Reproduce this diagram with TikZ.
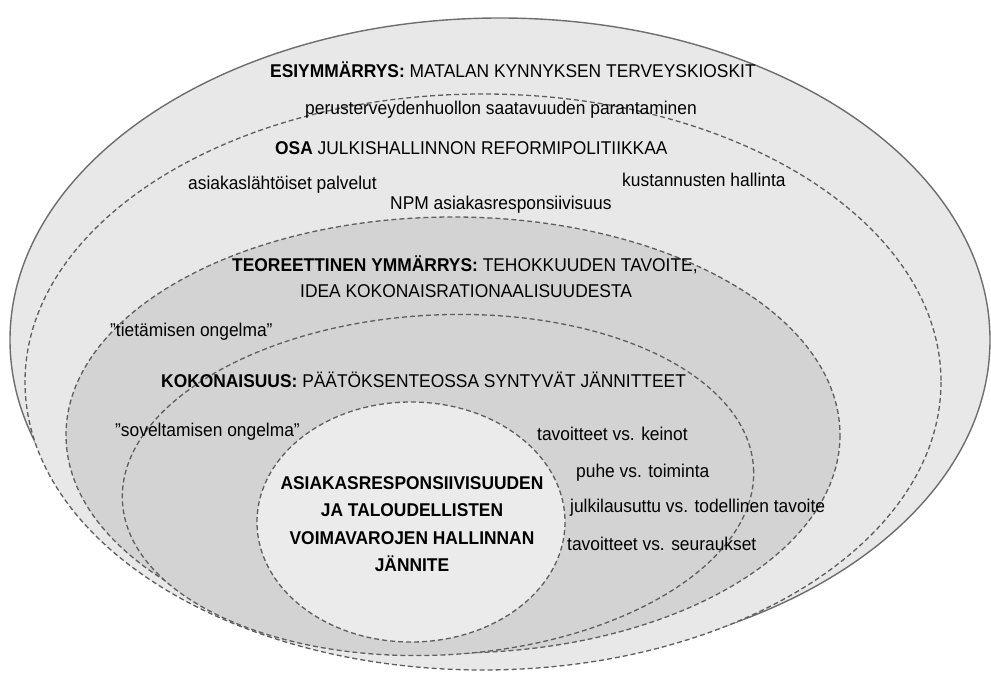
\documentclass[tikz,border=0pt]{standalone}
\usepackage{fontspec}
\setmainfont{Liberation Sans}[FakeStretch=0.94]
\definecolor{light}{HTML}{E8E8E8}
\definecolor{mid}{HTML}{D3D3D3}
\definecolor{core}{HTML}{EBEBEB}
\definecolor{edge}{HTML}{5E5E5E}

\begin{document}
\begin{tikzpicture}[
  x=1pt, y=-1pt,
  outer/.style = {fill=light, draw=edge!90, line width=1.4pt},
  layer/.style = {draw=edge, line width=1.3pt, dash pattern=on 5pt off 3pt},
  txt/.style = {anchor=base west, inner sep=0pt, text=black, font=\fontsize{18.5}{27}\selectfont}
  ]
  \useasboundingbox (0,0) rectangle (991,676);

  % Ellipses
  \draw[outer] (500,340) ellipse [x radius=490, y radius=322];
  \draw[layer, fill=light] (483,382) ellipse [x radius=458, y radius=288];
  \draw[layer, fill=mid] (453,435) ellipse [x radius=387, y radius=218];
  \draw[layer, fill=mid, rotate around={3:(438,485)}] (438,485) ellipse [x radius=316, y radius=170];
  \draw[layer, fill=core] (411,522) ellipse [x radius=154, y radius=120];

  % Textes
  \node[txt] (esi) at (270,78) {\textbf{ESIYMMÄRRYS:} MATALAN KYNNYKSEN TERVEYSKIOSKIT};
  \node[txt] (perus) at (305,115) {perusterveydenhuollon saatavuuden parantaminen};
  \node[txt] (osa) at (275,155) {\textbf{OSA} JULKISHALLINNON REFORMIPOLITIIKKAA};
  \node[txt] (asiak) at (188,190) {asiakaslähtöiset palvelut};
  \node[txt] (kust) at (622,187) {kustannusten hallinta};
  \node[txt] (npm) at (390,210) {NPM asiakasresponsiivisuus};
  \node[txt] (teo) at (232,272) {\textbf{TEOREETTINEN YMMÄRRYS:} TEHOKKUUDEN TAVOITE,};
  \node[txt] (idea) at (300,298) {IDEA KOKONAISRATIONAALISUUDESTA};
  \node[txt] (tiet) at (110,337) {”tietämisen ongelma”};
  \node[txt] (koko) at (161,388) {\textbf{KOKONAISUUS:} PÄÄTÖKSENTEOSSA SYNTYVÄT JÄNNITTEET};
  \node[txt] (sovel) at (115,436) {”soveltamisen ongelma”};
  \node[txt] (keinot) at (537,440) {tavoitteet vs. keinot};
  \node[txt] (puhe) at (576,477) {puhe vs. toiminta};
  \node[txt] (julki) at (570,512) {julkilausuttu vs. todellinen tavoite};
  \node[txt] (seur) at (567,550) {tavoitteet vs. seuraukset};
  \node[txt, anchor=center, align=center, font=\bfseries\fontsize{18.5}{27.5}\selectfont] (jannite) at (412,524)
    {ASIAKASRESPONSIIVISUUDEN\\JA TALOUDELLISTEN\\VOIMAVAROJEN HALLINNAN\\JÄNNITE};

\end{tikzpicture}
\end{document}
